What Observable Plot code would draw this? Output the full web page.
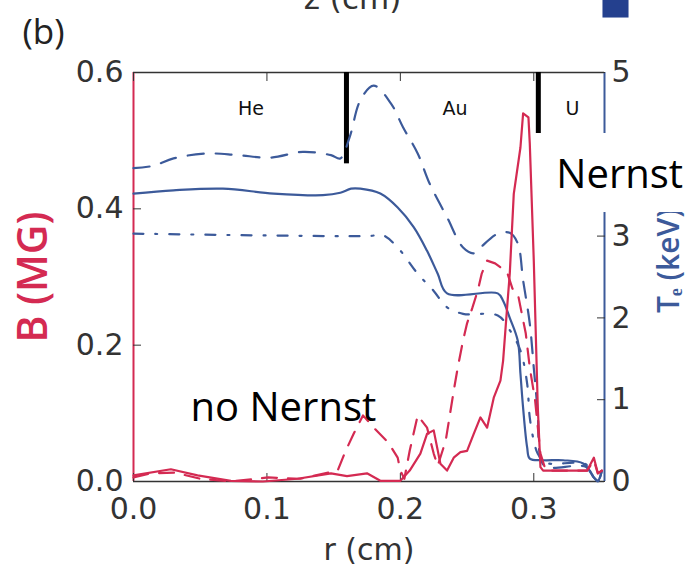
<!DOCTYPE html>
<html>
<head>
<meta charset="utf-8">
<script src="https://cdn.jsdelivr.net/npm/d3@7"></script>
<script src="https://cdn.jsdelivr.net/npm/@observablehq/plot@0.6"></script>
<style>
  html, body { margin: 0; padding: 0; background: #fff; }
  #chart svg { display: block; }
</style>
</head>
<body>
<div id="chart"></div>
<script>
// ---------- data ----------
// r in cm
const teDashedR = [0, 0.015, 0.03, 0.055, 0.078, 0.103, 0.127, 0.148, 0.155, 0.162, 0.170, 0.180, 0.193, 0.202, 0.213, 0.222, 0.235, 0.247, 0.255, 0.260, 0.273, 0.282, 0.288, 0.292, 0.297, 0.300, 0.303, 0.305, 0.309, 0.339, 0.345, 0.348, 0.351];
const teDashed  = [3.83, 3.86, 3.95, 4.01, 3.99, 3.96, 4.03, 3.99, 3.95, 4.21, 4.66, 4.84, 4.62, 4.33, 4.01, 3.64, 3.23, 2.86, 2.79, 2.86, 3.03, 3.04, 2.91, 2.46, 1.93, 1.39, 0.83, 0.29, 0.18, 0.18, 0.05, 0.0, 0.13];

const teSolidR = [0, 0.03, 0.067, 0.105, 0.142, 0.155, 0.163, 0.170, 0.185, 0.198, 0.210, 0.220, 0.228, 0.235, 0.273, 0.277, 0.282, 0.288, 0.290, 0.292, 0.295, 0.297, 0.307, 0.322, 0.337, 0.345, 0.348, 0.351];
const teSolid  = [3.52, 3.56, 3.58, 3.52, 3.50, 3.53, 3.58, 3.58, 3.52, 3.35, 3.11, 2.82, 2.54, 2.30, 2.30, 2.21, 2.00, 1.72, 1.32, 0.90, 0.42, 0.28, 0.26, 0.26, 0.22, 0.05, 0.01, 0.13];

const teDashDotR = [0, 0.175, 0.187, 0.198, 0.213, 0.225, 0.235, 0.247, 0.273, 0.282, 0.290, 0.295, 0.297, 0.300, 0.303, 0.309, 0.339, 0.345, 0.348, 0.351];
const teDashDot  = [3.03, 3.00, 3.01, 2.86, 2.54, 2.33, 2.13, 2.05, 2.03, 1.85, 1.60, 1.20, 0.78, 0.50, 0.34, 0.23, 0.21, 0.05, 0.0, 0.13];

const bSolidR = [0, 0.028, 0.048, 0.073, 0.097, 0.123, 0.148, 0.160, 0.175, 0.185, 0.200, 0.207, 0.215, 0.220, 0.225, 0.230, 0.235, 0.240, 0.245, 0.250, 0.255, 0.260, 0.265, 0.270, 0.275, 0.277, 0.280, 0.282, 0.285, 0.290, 0.292, 0.296, 0.297, 0.300, 0.303, 0.305, 0.307, 0.340, 0.345, 0.348, 0.351];
const bSolid  = [0.009, 0.018, 0.009, 0.001, 0.0, 0.004, 0.012, 0.008, 0.012, 0.001, 0.001, 0.016, 0.041, 0.070, 0.075, 0.026, 0.016, 0.035, 0.043, 0.045, 0.070, 0.094, 0.079, 0.123, 0.148, 0.177, 0.255, 0.305, 0.422, 0.490, 0.540, 0.534, 0.496, 0.324, 0.109, 0.021, 0.016, 0.016, 0.035, 0.012, 0.016];

const bDashedR = [0, 0.013, 0.031, 0.05, 0.073, 0.101, 0.125, 0.153, 0.159, 0.165, 0.172, 0.180, 0.191, 0.198, 0.200, 0.203, 0.207, 0.213, 0.220, 0.225, 0.228, 0.234, 0.240, 0.243, 0.247, 0.250, 0.254, 0.258, 0.261, 0.265, 0.271, 0.280, 0.284, 0.288, 0.294, 0.297, 0.301, 0.305, 0.309, 0.340, 0.345, 0.348, 0.351];
const bDashed  = [0.006, 0.012, 0.013, 0.004, 0.0, 0.006, 0.004, 0.016, 0.045, 0.070, 0.097, 0.079, 0.057, 0.035, 0.016, 0.004, 0.045, 0.097, 0.079, 0.041, 0.023, 0.060, 0.133, 0.167, 0.207, 0.232, 0.255, 0.280, 0.305, 0.324, 0.320, 0.307, 0.283, 0.276, 0.217, 0.167, 0.119, 0.041, 0.016, 0.016, 0.031, 0.012, 0.016];

// axes
const xDomain = [0, 0.353];
const bDomain = [0, 0.6];
const teMax = 5;
const xTicks = [0, 0.1, 0.2, 0.3];
const bTicks = [0, 0.2, 0.4, 0.6];
const teTicks = [0, 1, 2, 3, 4, 5];
const teHiddenLabels = [4]; // covered by the "Nernst" box in the figure

// material regions
const regionNames = ["He", "Au", "U"];
const regionLabelR = [0.088, 0.241, 0.329];
const regionLabelB = 0.547;
const boundaryR = [0.1596, 0.3034];
const boundaryLowB = [0.466, 0.50];

// ---------- styling ----------
const RED = "#d42a52";
const BLUE = "#3c5a9a";
const INK = "#333333";
const TE_TO_B = bDomain[1] / teMax;

const toRows = (rs, vs, k = 1) => rs.map((r, i) => ({ r, v: vs[i] * k }));

const boundaries = boundaryR.map((r, i) => ({ r, top: bDomain[1], low: boundaryLowB[i] }));
const regions = regionNames.map((name, i) => ({ name, r: regionLabelR[i], b: regionLabelB }));

const nernstBox = [{ x1: 0.3011, x2: 0.4232, y1: 0.3946, y2: 0.5105 }];

const teFormat = d => {
  const t = Math.round(d / TE_TO_B);
  return teHiddenLabels.includes(t) ? "" : String(t);
};

const chart = Plot.plot({
  width: 698,
  height: 572,
  marginLeft: 133,
  marginRight: 94,
  marginTop: 72,
  marginBottom: 91,
  style: { fontFamily: "DejaVu Sans", fontSize: "30px", color: INK, background: "#fff", overflow: "visible" },
  x: { domain: xDomain },
  y: { domain: bDomain },
  marks: [
    // spines
    Plot.ruleY([bDomain[0]], { stroke: INK, strokeWidth: 1.6 }),
    Plot.ruleY([bDomain[1]], { stroke: INK, strokeWidth: 1.6 }),
    Plot.ruleX([xDomain[0]], { stroke: RED, strokeWidth: 2 }),
    Plot.ruleX([xDomain[1]], { stroke: BLUE, strokeWidth: 2 }),

    // axes (inward ticks)
    Plot.axisX(xTicks, { anchor: "bottom", tickSize: -8, tickPadding: 24, tickFormat: d => d.toFixed(1), label: null, stroke: INK, fontSize: 30 }),
    Plot.axisX(xTicks, { anchor: "top", tickSize: -8, tickFormat: () => "", label: null, stroke: INK }),
    Plot.axisY(bTicks, { anchor: "left", tickSize: -8, tickPadding: 18, tickFormat: d => d.toFixed(1), label: null, stroke: INK, fontSize: 30 }),
    Plot.axisY(teTicks.map(t => t * TE_TO_B), { anchor: "right", tickSize: -8, tickPadding: 15, tickFormat: teFormat, label: null, stroke: INK, fontSize: 30 }),

    // axis titles
    Plot.text(["B (MG)"], { frameAnchor: "left", dx: -100, textAnchor: "middle", lineAnchor: "middle", rotate: -90, fill: RED, fontSize: 41, fontWeight: 600, fontFamily: "Open Sans" }),
    Plot.text(["Tₑ (keV)"], { frameAnchor: "right", dx: 65, dy: 36, textAnchor: "start", lineAnchor: "middle", rotate: -90, fill: BLUE, fontSize: 30, fontWeight: 600, fontFamily: "Open Sans" }),
    Plot.text(["r (cm)"], { frameAnchor: "bottom", dy: 69, textAnchor: "middle", lineAnchor: "middle", fill: INK, fontSize: 30 }),

    // region boundaries and labels
    Plot.ruleX(boundaries, { x: "r", y1: "top", y2: "low", stroke: "#000", strokeWidth: 5 }),
    Plot.text(regions, { x: "r", y: "b", text: "name", fill: "#111", fontSize: 19 }),

    // T_e curves (right axis)
    Plot.line(toRows(teDashedR, teDashed, TE_TO_B), { x: "r", y: "v", stroke: BLUE, strokeWidth: 2.2, strokeDasharray: "16,12", curve: "catmull-rom" }),
    Plot.line(toRows(teSolidR, teSolid, TE_TO_B), { x: "r", y: "v", stroke: BLUE, strokeWidth: 2.2, curve: "catmull-rom" }),
    Plot.line(toRows(teDashDotR, teDashDot, TE_TO_B), { x: "r", y: "v", stroke: BLUE, strokeWidth: 2.2, strokeDasharray: "10,12,2,12", curve: "catmull-rom" }),

    // B curves (left axis)
    Plot.line(toRows(bDashedR, bDashed), { x: "r", y: "v", stroke: RED, strokeWidth: 2.2, strokeDasharray: "15,11" }),
    Plot.line(toRows(bSolidR, bSolid), { x: "r", y: "v", stroke: RED, strokeWidth: 2.2 }),

    // annotations
    Plot.rect(nernstBox, { x1: "x1", x2: "x2", y1: "y1", y2: "y2", fill: "#fff" }),
    Plot.text(["Nernst"], { x: 0.3169, y: 0.449, textAnchor: "start", fill: "#000", fontSize: 40, fontFamily: "Open Sans" }),
    Plot.text(["no Nernst"], { x: 0.0427, y: 0.107, textAnchor: "start", fill: "#000", fontSize: 40, fontFamily: "Open Sans" }),
    Plot.text(["(b)"], { frameAnchor: "top-left", dx: -90, dy: -40, textAnchor: "middle", lineAnchor: "middle", fill: "#222", fontSize: 35, fontFamily: "Open Sans" }),
    Plot.text(["z (cm)"], { frameAnchor: "top-left", dx: 219, dy: -64, textAnchor: "middle", lineAnchor: "bottom", fill: INK, fontSize: 31 }),
    Plot.dot([0], { frameAnchor: "top-right", dx: 11, dy: -68, symbol: "square", r: 14.7, fill: "#24408e", stroke: "none" })
  ]
});

document.getElementById("chart").appendChild(chart);
</script>
</body>
</html>
